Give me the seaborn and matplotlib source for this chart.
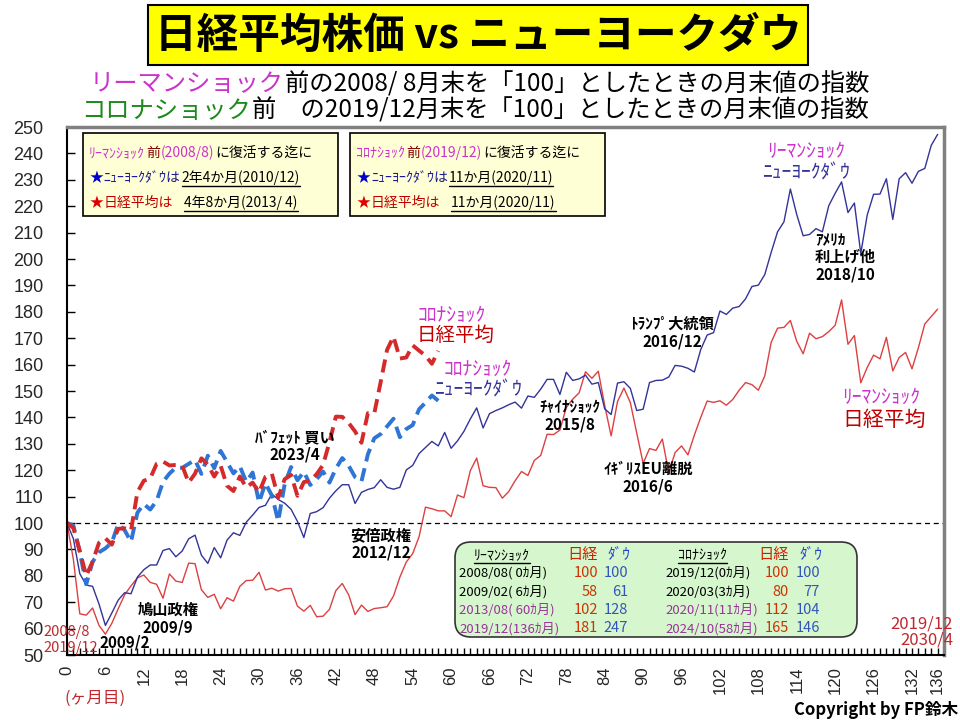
import numpy as np
import matplotlib
matplotlib.use("Agg")
import matplotlib.pyplot as plt
import seaborn as sns
from matplotlib.patches import Rectangle, FancyBboxPatch

# --- données (indice, base 100) ---
# リーマンショック : 2008/08 = 100, mois 0..136
leh_dow = [100.0,
           94.0, 80.8, 76.5, 76.0, 69.3, 61.2, 65.9, 70.8, 73.6, 73.2, 79.5, 82.3,
           84.1, 84.1, 89.6, 90.3, 87.2, 89.4, 94.0, 95.4, 87.8, 84.7, 90.7, 86.8,
           93.5, 96.3, 95.3, 100.3, 103.0, 105.9, 106.7, 111.0, 108.9, 107.5, 105.2, 100.6,
           94.5, 103.6, 104.3, 105.8, 109.4, 112.2, 114.5, 114.5, 107.4, 111.6, 112.7, 113.4,
           116.4, 113.5, 112.8, 113.5, 120.1, 121.8, 126.3, 128.6, 130.9, 129.2, 134.3, 128.3,
           131.1, 134.7, 139.4, 143.6, 136.0, 141.4, 142.6, 143.6, 144.8, 145.8, 143.5, 148.1,
           147.6, 150.7, 154.4, 154.4, 148.7, 157.1, 154.0, 154.6, 156.0, 152.6, 153.2, 143.2,
           141.1, 153.0, 153.5, 151.0, 142.6, 143.1, 153.2, 154.0, 154.1, 155.3, 159.7, 159.4,
           158.6, 157.2, 165.7, 171.2, 172.1, 180.3, 179.0, 181.4, 182.0, 184.9, 189.6, 190.1,
           194.1, 202.5, 210.3, 214.1, 226.5, 216.8, 208.8, 209.3, 211.5, 210.3, 220.2, 224.9,
           229.2, 217.6, 221.2, 202.1, 216.6, 224.5, 224.6, 230.4, 215.0, 230.4, 232.7, 228.7,
           233.2, 234.3, 243.0, 247.2]
leh_nk = [100.0,
          86.1, 65.6, 65.1, 67.8, 61.2, 57.9, 62.0, 67.5, 72.8, 76.2, 79.2, 80.3,
          77.5, 76.8, 71.5, 80.7, 78.0, 77.5, 84.8, 84.6, 74.7, 71.8, 73.0, 67.5,
          71.7, 70.4, 76.0, 78.2, 78.3, 81.3, 74.6, 75.3, 74.2, 75.1, 75.2, 68.5,
          66.6, 68.8, 64.5, 64.7, 67.3, 74.4, 77.1, 72.8, 65.3, 68.9, 66.5, 67.6,
          67.9, 68.3, 72.3, 79.5, 85.2, 88.4, 94.8, 106.0, 105.4, 104.6, 104.6, 102.4,
          110.6, 109.6, 119.8, 124.6, 114.1, 113.5, 113.4, 109.4, 111.9, 116.0, 119.5, 118.0,
          123.7, 125.6, 133.6, 133.5, 135.2, 143.8, 146.9, 149.3, 157.3, 154.8, 157.5, 144.5,
          133.0, 146.0, 151.1, 145.6, 134.0, 122.6, 128.2, 127.5, 131.8, 119.1, 126.7, 129.2,
          125.8, 133.3, 140.0, 146.2, 145.7, 146.3, 144.6, 146.8, 150.3, 153.2, 152.4, 150.3,
          155.7, 168.4, 173.8, 174.1, 176.7, 168.8, 164.1, 171.9, 169.8, 170.6, 172.5, 174.9,
          184.5, 167.7, 171.0, 153.1, 158.9, 163.6, 162.2, 170.3, 157.6, 162.7, 164.6, 158.4,
          166.4, 175.4, 178.2, 181.0]

# コロナショック : 2019/12 = 100, mois 0..58
cov_nk = [100.0,
          98.1, 89.4, 80.0, 85.4, 92.5, 94.2, 91.8, 97.8, 98.0, 97.1, 111.7, 116.0,
          116.9, 122.4, 123.3, 121.8, 122.0, 121.7, 115.3, 118.7, 124.5, 122.1, 117.6, 121.7,
          114.1, 112.1, 117.6, 113.5, 115.3, 111.6, 117.5, 118.7, 109.6, 116.6, 118.2, 110.3,
          115.5, 116.0, 118.5, 122.0, 130.6, 140.3, 140.2, 137.9, 134.7, 130.4, 141.6, 141.5,
          153.4, 165.6, 170.6, 162.3, 162.7, 167.3, 165.3, 163.4, 160.3, 165.2]
cov_dow = [100.0,
           99.0, 89.0, 76.8, 85.3, 88.9, 90.4, 92.6, 99.6, 97.3, 92.9, 103.9, 107.2,
           105.1, 108.4, 115.6, 118.7, 121.0, 120.9, 122.4, 123.9, 118.6, 125.5, 120.8, 127.3,
           123.1, 118.8, 121.5, 115.6, 119.1, 107.8, 115.1, 110.4, 100.7, 114.7, 121.2, 116.2,
           119.4, 114.4, 116.6, 119.5, 115.3, 120.6, 124.6, 121.7, 117.4, 115.8, 126.0, 132.1,
           133.7, 136.6, 139.5, 132.5, 135.6, 137.1, 143.1, 145.6, 148.3, 146.3]

x_ticks = list(range(0, 133, 6)) + [136]
y_ticks = list(range(50, 251, 10))

# tableau récapitulatif
tab_leh_lbl = ["2008/08( 0ｶ月)", "2009/02( 6ｶ月)", "2013/08( 60ｶ月)", "2019/12(136ｶ月)"]
tab_leh_nk = [100, 58, 102, 181]
tab_leh_dow = [100, 61, 128, 247]
tab_cov_lbl = ["2019/12(0ｶ月)", "2020/03(3ｶ月)", "2020/11(11ｶ月)", "2024/10(58ｶ月)"]
tab_cov_nk = [100, 80, 112, 165]
tab_cov_dow = [100, 77, 104, 146]

MAG = "#CC33CC"
NAVY = "#333399"
RED = "#C00000"

sns.set_theme(style="white")
plt.rcParams['font.family'] = ['Noto Sans CJK JP', 'DejaVu Sans']

W, H = 960, 720
fig = plt.figure(figsize=(9.6, 7.2), dpi=100, facecolor="white")
ax = fig.add_axes([67 / W, 1 - 655 / H, (944 - 67) / W, (655 - 127) / H])

ax.axhline(100, color="black", lw=0.9, ls=(0, (4, 3)), zorder=1)
sns.lineplot(x=np.arange(len(leh_nk)), y=leh_nk, ax=ax, color="#DD4040", lw=1.0, errorbar=None)
sns.lineplot(x=np.arange(len(leh_dow)), y=leh_dow, ax=ax, color=NAVY, lw=1.0, errorbar=None)
sns.lineplot(x=np.arange(len(cov_dow)), y=cov_dow, ax=ax, color="#2E75D6", lw=2.8,
             linestyle=(0, (3.4, 1.8)), errorbar=None)
sns.lineplot(x=np.arange(len(cov_nk)), y=cov_nk, ax=ax, color="#D42A2A", lw=2.8,
             linestyle=(0, (3.4, 1.8)), errorbar=None)

ax.set_xlim(0, 137)
ax.set_ylim(50, 250)
ax.set_yticks(y_ticks)
ax.set_xticks(x_ticks)
ax.set_xticks(range(0, 138), minor=True)
ax.tick_params(axis="x", which="both", direction="in", length=5, width=1, bottom=True,
               color="black", labelsize=12, pad=8, labelrotation=90)
ax.tick_params(axis="y", direction="in", length=6, width=1, left=True, color="black",
               labelsize=13, pad=17)
for lbl in ax.get_xticklabels() + ax.get_yticklabels():
    lbl.set_fontfamily("Liberation Sans")
ax.set_xlabel("")
ax.set_ylabel("")
ax.grid(False)
for s in ["left", "bottom"]:
    ax.spines[s].set_color("black")
    ax.spines[s].set_linewidth(1.5)
for s in ["top", "right"]:
    ax.spines[s].set_color("#808080")
    ax.spines[s].set_linewidth(2.5)

# calque en pixels pour les textes
ov = fig.add_axes([0, 0, 1, 1], zorder=5)
ov.set_xlim(0, W)
ov.set_ylim(H, 0)
ov.axis("off")
ov.patch.set_alpha(0)
renderer = fig.canvas.get_renderer()


def run(x, y, parts, size, ha="left", weight="normal"):
    # parts : (texte, couleur[, souligné]) ou un écart en px
    items = []
    for p in parts:
        if isinstance(p, (int, float)):
            items.append((None, p, False))
            continue
        t = ov.text(0, y, p[0], color=p[1], fontsize=size, fontweight=weight,
                    va="center", ha="left")
        items.append((t, t.get_window_extent(renderer).width, len(p) > 2 and p[2]))
    total = sum(w for _, w, _ in items)
    x0 = x - total / 2 if ha == "center" else (x - total if ha == "right" else x)
    for t, w, und in items:
        if t is not None:
            t.set_x(x0)
            if und:
                yy = y + size * 100 / 72 * 0.6
                ov.plot([x0, x0 + w], [yy, yy], color="black", lw=1)
        x0 += w + (1 if t is not None else 0)


# titre
ov.add_patch(Rectangle((148, 5), 660, 60, facecolor="#FFFF00", edgecolor="black", lw=1.5))
ov.text(478, 36, "日経平均株価 vs ニューヨークダウ", fontsize=30, fontweight="bold",
        ha="center", va="center", color="black")
run(868, 84, [("リーマンショック", MAG), ("前の2008/ 8月末を「100」としたときの月末値の指数", "black")],
    17.5, ha="right")
run(868, 111, [("コロナショック", "#1A8A1A"), ("前　の2019/12月末を「100」としたときの月末値の指数", "black")],
    17.5, ha="right")

# encadrés
for bx in (83, 350):
    ov.add_patch(Rectangle((bx, 133), 255, 83, facecolor="#FFFFD5", edgecolor="black", lw=1.2))
run(89, 153, [("ﾘｰﾏﾝｼｮｯｸ", MAG), ("前", "#800000"), ("(2008/8)", MAG), ("に復活する迄に", "black")], 10)
run(89, 178, [("★", "#0000CC"), ("ﾆｭｰﾖｰｸﾀﾞｳは", "#1A1A99"), ("2年4か月(2010/12)", "black", True)], 10)
run(89, 203, [("★", "#DD0000"), ("日経平均は", RED), 10, ("4年8か月(2013/ 4)", "black", True)], 10)
run(356, 153, [("ｺﾛﾅｼｮｯｸ", MAG), ("前", "#800000"), ("(2019/12)", MAG), ("に復活する迄に", "black")], 10)
run(356, 178, [("★", "#0000CC"), ("ﾆｭｰﾖｰｸﾀﾞｳは", "#1A1A99"), ("11か月(2020/11)", "black", True)], 10)
run(356, 203, [("★", "#DD0000"), ("日経平均は", RED), 10, ("11か月(2020/11)", "black", True)], 10)

# tableau
ov.add_patch(FancyBboxPatch((455, 542), 402, 95, boxstyle="round,pad=0,rounding_size=16",
                            facecolor="#D6F7CE", edgecolor="#333333", lw=1.2))
run(474, 555, [("ﾘｰﾏﾝｼｮｯｸ", "black", True)], 10)
run(678, 555, [("ｺﾛﾅｼｮｯｸ", "black", True)], 10)
for xr, txt, col in [(598, "日経", "#CC2200"), (630, "ﾀﾞｳ", "#2244CC"),
                     (789, "日経", "#CC2200"), (822, "ﾀﾞｳ", "#2244CC")]:
    run(xr, 555, [(txt, col)], 11, ha="right")
for i in range(4):
    yy = 573 + i * 18.5
    c = "black" if i < 2 else "#993399"
    run(459, yy, [(tab_leh_lbl[i], c)], 9.5)
    run(665, yy, [(tab_cov_lbl[i], c)], 9.5)
    run(598, yy, [(str(tab_leh_nk[i]), "#CC3300")], 10.5, ha="right")
    run(628, yy, [(str(tab_leh_dow[i]), "#3355BB")], 10.5, ha="right")
    run(789, yy, [(str(tab_cov_nk[i]), "#CC3300")], 10.5, ha="right")
    run(820, yy, [(str(tab_cov_dow[i]), "#3355BB")], 10.5, ha="right")

# étiquettes des séries
ov.text(452, 315, "ｺﾛﾅｼｮｯｸ", color=MAG, fontsize=14, ha="center", va="center")
ov.text(456, 335, "日経平均", color=RED, fontsize=14, ha="center", va="center")
ov.text(478, 369, "ｺﾛﾅｼｮｯｸ", color=MAG, fontsize=14, ha="center", va="center")
ov.text(478, 390, "ﾆｭｰﾖｰｸﾀﾞｳ", color=NAVY, fontsize=14, ha="center", va="center")
ov.text(806, 151, "ﾘｰﾏﾝｼｮｯｸ", color=MAG, fontsize=14, ha="center", va="center")
ov.text(806, 173, "ﾆｭｰﾖｰｸﾀﾞｳ", color=NAVY, fontsize=14, ha="center", va="center")
ov.text(881, 397, "ﾘｰﾏﾝｼｮｯｸ", color=MAG, fontsize=14, ha="center", va="center")
ov.text(884, 420, "日経平均", color=RED, fontsize=15, ha="center", va="center")

# annotations
notes = [(295, 446, "ﾊﾞﾌｪｯﾄ 買い\n2023/4"), (381, 544, "安倍政権\n2012/12"),
         (168, 619, "鳩山政権\n2009/9"), (125, 643, "2009/2"),
         (570, 416, "ﾁｬｲﾅｼｮｯｸ\n2015/8"), (648, 478, "ｲｷﾞﾘｽEU離脱\n2016/6"),
         (672, 333, "ﾄﾗﾝﾌﾟ大統領\n2016/12")]
for x, y, t in notes:
    ov.text(x, y, t, fontsize=11, fontweight="bold", ha="center", va="center",
            linespacing=1.15, color="black")
ov.text(815, 257, "ｱﾒﾘｶ\n利上げ他\n2018/10", fontsize=11, fontweight="bold", ha="left",
        va="center", linespacing=1.1, color="black")

ov.text(43, 632, "2008/8", color="#C0282D", fontsize=10.5, ha="left", va="center")
ov.text(43, 648, "2019/12", color="#C0282D", fontsize=10.5, ha="left", va="center")
ov.text(953, 624, "2019/12", color="#C0282D", fontsize=12, ha="right", va="center")
ov.text(953, 640, "2030/4", color="#C0282D", fontsize=12, ha="right", va="center")
ov.text(95, 698, "(ヶ月目)", color="#C0282D", fontsize=12, ha="center", va="center")
ov.text(958, 710, "Copyright by FP鈴木", color="black", fontsize=12, fontweight="bold",
        ha="right", va="center")

fig.savefig("out.png", dpi=100, facecolor="white")
